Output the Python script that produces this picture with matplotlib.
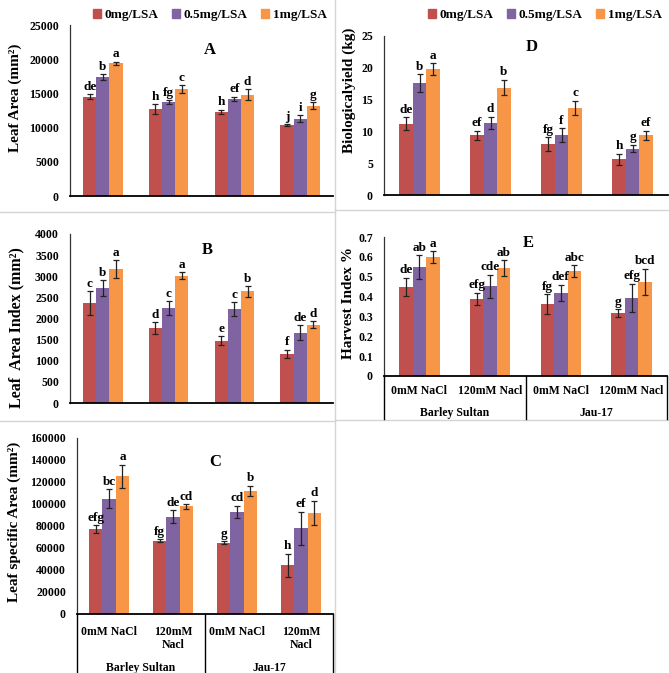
import matplotlib.pyplot as plt
from matplotlib.lines import Line2D
from matplotlib.patches import Patch
from matplotlib.transforms import blended_transform_factory
import numpy as np

plt.rcParams['font.family'] = ['Liberation Serif', 'DejaVu Serif']
plt.rcParams['font.weight'] = 'bold'

W, H = 669, 673

series = ['0mg/LSA', '0.5mg/LSA', '1mg/LSA']
colors = ['#C0504D', '#8064A2', '#F79646']
salinity = ['0mM NaCl', '120mM Nacl', '0mM NaCl', '120mM Nacl']
cultivars = ['Barley Sultan', 'Jau-17']

# A - leaf area
leaf_area = [[14500, 12700, 12300, 10400],
             [17400, 13700, 14200, 11300],
             [19400, 15600, 14800, 13200]]
leaf_area_err = [[350, 700, 300, 100],
                 [450, 300, 300, 500],
                 [250, 600, 800, 500]]
leaf_area_sig = [['de', 'h', 'h', 'j'],
                 ['b', 'fg', 'ef', 'i'],
                 ['a', 'c', 'd', 'g']]

# B - leaf area index
lai = [[2370, 1770, 1475, 1160],
       [2720, 2250, 2225, 1660],
       [3170, 3010, 2640, 1850]]
lai_err = [[280, 140, 100, 100],
           [180, 160, 160, 175],
           [205, 80, 120, 80]]
lai_sig = [['c', 'd', 'e', 'f'],
           ['b', 'c', 'c', 'de'],
           ['a', 'a', 'b', 'd']]

# C - leaf specific area
lsa = [[77000, 66800, 65000, 44400],
       [105000, 88600, 93100, 78000],
       [125400, 97900, 112000, 92000]]
lsa_err = [[3500, 1000, 1200, 10500],
           [8500, 6000, 5500, 15000],
           [10500, 2000, 4500, 11000]]
lsa_sig = [['efg', 'fg', 'g', 'h'],
           ['bc', 'de', 'cd', 'ef'],
           ['a', 'cd', 'b', 'd']]

# D - biological yield
bio = [[11.2, 9.4, 8.0, 5.6],
       [17.6, 11.3, 9.4, 7.3],
       [19.8, 16.9, 13.7, 9.4]]
bio_err = [[1.0, 0.7, 1.1, 0.9],
           [1.4, 1.0, 1.1, 0.6],
           [0.9, 1.2, 1.1, 0.7]]
bio_sig = [['de', 'ef', 'fg', 'h'],
           ['b', 'd', 'f', 'g'],
           ['a', 'b', 'c', 'ef']]

# E - harvest index
hi = [[0.448, 0.389, 0.361, 0.317],
      [0.549, 0.451, 0.419, 0.394],
      [0.599, 0.544, 0.527, 0.473]]
hi_err = [[0.047, 0.03, 0.05, 0.018],
          [0.06, 0.06, 0.04, 0.07],
          [0.028, 0.04, 0.03, 0.067]]
hi_sig = [['de', 'efg', 'fg', 'g'],
          ['ab', 'cde', 'def', 'efg'],
          ['a', 'ab', 'abc', 'bcd']]


fig = plt.figure(figsize=(W / 100, H / 100), dpi=100)


def fx(x):
    return x / W


def fy(y):
    return 1 - y / H


def make_axes(l, t, r, b):
    return fig.add_axes([fx(l), fy(b), (r - l) / W, (b - t) / H])


def bar_panel(ax, vals, errs, sigs, ymax, step, width=0.19):
    x = np.arange(4)
    for i in range(3):
        xi = x + (i - 1) * width
        ax.bar(xi, vals[i], width, color=colors[i], zorder=2)
        ax.errorbar(xi, vals[i], yerr=errs[i], fmt='none', ecolor='#222222',
                    elinewidth=0.9, capsize=2.4, capthick=0.9, zorder=3)
        for xx, v, e, s in zip(xi, vals[i], errs[i], sigs[i]):
            ax.annotate(s, (xx, v + e), xytext=(0, 1), textcoords='offset points',
                        ha='center', va='bottom', fontsize=9.5, fontweight='bold')
    ax.set_xlim(-0.5, 3.5)
    ax.set_ylim(0, ymax)
    ticks = np.arange(0, ymax + step / 2, step)
    ax.set_yticks(ticks)
    ax.set_yticklabels([f'{t:g}' for t in ticks], fontsize=8.5, fontweight='bold')
    ax.tick_params(axis='y', length=0, pad=8)
    ax.set_xticks([])
    for s in ['top', 'right']:
        ax.spines[s].set_visible(False)
    ax.spines['left'].set_color('#333333')
    ax.spines['left'].set_linewidth(0.9)
    ax.spines['bottom'].set_color('black')
    ax.spines['bottom'].set_linewidth(1.3)
    ax.patch.set_alpha(0)


def vline(x, y0, y1, color='black', lw=1.0):
    fig.add_artist(Line2D([fx(x), fx(x)], [fy(y0), fy(y1)],
                          transform=fig.transFigure, color=color, lw=lw))


def hline(y, x0, x1, color='black', lw=1.0):
    fig.add_artist(Line2D([fx(x0), fx(x1)], [fy(y), fy(y)],
                          transform=fig.transFigure, color=color, lw=lw))


def category_box(ax, y_axis, y_end, y_sal, y_cult, wrap):
    tr = blended_transform_factory(ax.transData, fig.transFigure)
    for xd in [-0.5, 1.5, 3.5]:
        xp = ax.transData.transform((xd, 0))[0]
        vline(xp, y_axis, y_end)
    for i, lab in enumerate(salinity):
        txt = lab.replace(' ', '\n') if (wrap and '120' in lab) else lab
        ax.text(i, fy(y_sal), txt, transform=tr, ha='center', va='top',
                fontsize=8.5, fontweight='bold', linespacing=1.1)
    for i, lab in enumerate(cultivars):
        ax.text(0.5 + 2 * i, fy(y_cult), lab, transform=tr, ha='center',
                va='center', fontsize=8.5, fontweight='bold')


# panel borders
grey = '#D4D4D4'
vline(335, 0, H, grey, 1.0)
hline(212, 0, 335, grey, 1.0)
hline(421, 0, 335, grey, 1.0)
hline(210, 335, W, grey, 1.0)
hline(420, 335, W, grey, 1.0)

# A
axA = make_axes(70, 25, 333, 196)
bar_panel(axA, leaf_area, leaf_area_err, leaf_area_sig, 25000, 5000, width=0.2)
fig.text(fx(210), fy(50), 'A', ha='center', va='center', fontsize=12, fontweight='bold')
fig.text(fx(15), fy(98), 'Leaf Area (mm²)', rotation=90, ha='center',
         va='center', fontsize=11, fontweight='bold')

# B
axB = make_axes(70, 234, 333, 403)
bar_panel(axB, lai, lai_err, lai_sig, 4000, 500, width=0.2)
fig.text(fx(207), fy(250), 'B', ha='center', va='center', fontsize=12, fontweight='bold')
fig.text(fx(16), fy(328), 'Leaf  Area Index (mm²)', rotation=90, ha='center',
         va='center', fontsize=11.5, fontweight='bold')

# C
axC = make_axes(77, 438, 333, 614)
bar_panel(axC, lsa, lsa_err, lsa_sig, 160000, 20000, width=0.21)
category_box(axC, 614, H + 2, 626, 668, wrap=True)
fig.text(fx(215), fy(462), 'C', ha='center', va='center', fontsize=12, fontweight='bold')
fig.text(fx(14), fy(522), 'Leaf specific Area (mm²)', rotation=90,
         ha='center', va='center', fontsize=11, fontweight='bold')

# D
axD = make_axes(384, 36, 668, 195)
bar_panel(axD, bio, bio_err, bio_sig, 25, 5)
fig.text(fx(532), fy(47), 'D', ha='center', va='center', fontsize=12, fontweight='bold')
fig.text(fx(349), fy(90), 'Biologicalyield (kg)', rotation=90, ha='center',
         va='center', fontsize=11, fontweight='bold')

# E
axE = make_axes(384, 237, 667, 376)
bar_panel(axE, hi, hi_err, hi_sig, 0.7, 0.1)
category_box(axE, 376, 419, 385, 413, wrap=False)
fig.text(fx(528), fy(243), 'E', ha='center', va='center', fontsize=12, fontweight='bold')
fig.text(fx(349), fy(303), 'Harvest Index %', rotation=90, ha='center',
         va='center', fontsize=11, fontweight='bold')

# legends
handles = [Patch(color=c, label=s) for c, s in zip(colors, series)]
for cx in [210, 545]:
    fig.legend(handles=handles, loc='center', bbox_to_anchor=(fx(cx), fy(15)),
               ncol=3, frameon=False, handlelength=0.6, handleheight=0.6,
               handletextpad=0.3, columnspacing=1.0,
               prop={'size': 9.5, 'weight': 'bold'})

fig.savefig('out.png', dpi=100)
